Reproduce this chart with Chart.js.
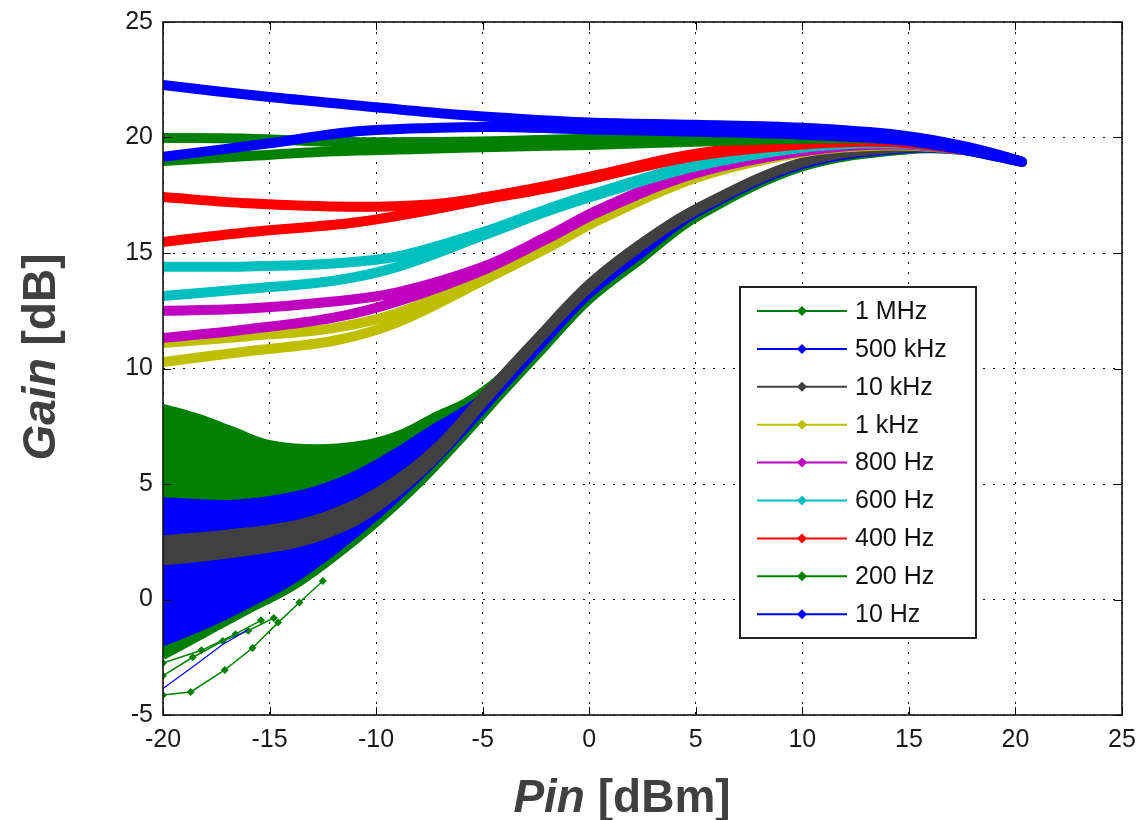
<!DOCTYPE html>
<html>
<head>
<meta charset="utf-8">
<title>Gain vs Pin</title>
<script src="https://cdn.jsdelivr.net/npm/chart.js@4.4.1/dist/chart.umd.min.js"></script>
<style>
  html, body { margin: 0; padding: 0; background: #fff; }
  #wrap { width: 1136px; height: 820px; position: relative; }
</style>
</head>
<body>
<div id="wrap"><canvas id="chart1"></canvas></div>
<script>
// legend order = plotting order (first one sits at the bottom)
var seriesLabels = ["1 MHz", "500 kHz", "10 kHz", "1 kHz", "800 Hz", "600 Hz", "400 Hz", "200 Hz", "10 Hz"];
var seriesColors = ["#008000", "#0000ff", "#404040", "#bfbf00", "#bf00bf", "#00bfbf", "#ff0000", "#008000", "#0000ff"];

var xTicks = [-20, -15, -10, -5, 0, 5, 10, 15, 20, 25];
var yTicks = [-5, 0, 5, 10, 15, 20, 25];

// each frequency: rising branch (upper) and falling branch (lower) as [Pin, Gain]
var up1MHz = [[-20, 8.3], [-18.3, 7.85], [-16.7, 7.3], [-15.1, 6.75], [-12.8, 6.55], [-10.4, 6.75], [-8.9, 7.15], [-7.3, 7.9], [-5.7, 8.6], [-4.2, 9.6], [-2.5, 11.2], [0, 13.6], [2.5, 15.4], [5, 16.85], [10, 18.9], [15, 19.55], [17.7, 19.45], [20.3, 18.95]];
var lo1MHz = [[-20, -2.45], [-18, -1.45], [-16, -0.45], [-14, 0.5], [-12, 1.8], [-10, 3.3], [-8, 5.0], [-6, 6.95], [-4, 9.0], [-2, 11.0], [0, 12.95], [2.5, 14.75], [5, 16.5], [10, 18.7], [15, 19.45], [17.7, 19.4], [20.3, 18.95]];

var up500k = [[-20, 4.25], [-16.7, 4.15], [-13.6, 4.55], [-11.2, 5.3], [-9.2, 6.3], [-7.5, 7.3], [-5, 8.75], [-2.5, 11.25], [0, 13.65], [2.5, 15.45], [5, 16.9], [10, 18.93], [15, 19.55], [17.7, 19.45], [20.3, 18.95]];
var lo500k = [[-20, -1.85], [-18, -1.1], [-16, -0.2], [-14, 0.8], [-12, 2.1], [-10, 3.6], [-8, 5.3], [-6, 7.2], [-4, 9.25], [-2, 11.25], [0, 13.2], [2.5, 15.0], [5, 16.7], [10, 18.8], [15, 19.5], [17.7, 19.4], [20.3, 18.95]];

var up10k = [[-20, 2.6], [-17, 2.85], [-13.6, 3.3], [-11, 4.15], [-8.9, 5.3], [-7, 6.75], [-5, 8.8], [-2.5, 11.3], [0, 13.7], [2.5, 15.5], [5, 16.95], [10, 18.97], [15, 19.58], [17.7, 19.45], [20.3, 18.95]];
var lo10k = [[-20, 1.65], [-17, 1.95], [-13.6, 2.45], [-11, 3.35], [-8.9, 4.7], [-7, 6.3], [-5, 8.45], [-2.5, 11.05], [0, 13.45], [2.5, 15.3], [5, 16.8], [10, 18.88], [15, 19.55], [17.7, 19.42], [20.3, 18.95]];

var up1k = [[-20, 11.1], [-16, 11.4], [-12, 11.75], [-9, 12.4], [-5, 13.95], [-2, 15.3], [0.5, 16.55], [5, 18.35], [10, 19.4], [14, 19.7], [17.7, 19.5], [20.3, 18.95]];
var lo1k = [[-20, 10.28], [-16, 10.75], [-12, 11.2], [-9, 12.0], [-5, 13.8], [-2, 15.2], [0.5, 16.45], [5, 18.25], [10, 19.35], [14, 19.65], [17.7, 19.45], [20.3, 18.95]];

var up800 = [[-20, 12.5], [-16, 12.6], [-12, 12.9], [-9, 13.3], [-5, 14.4], [-2, 15.7], [0.5, 16.9], [5, 18.55], [10, 19.45], [14, 19.75], [17.7, 19.5], [20.3, 18.95]];
var lo800 = [[-20, 11.32], [-16, 11.7], [-12, 12.2], [-9, 12.9], [-5, 14.25], [-2, 15.6], [0.5, 16.8], [5, 18.45], [10, 19.4], [14, 19.7], [17.7, 19.45], [20.3, 18.95]];

var up600 = [[-20, 14.4], [-16, 14.42], [-12, 14.55], [-9, 14.85], [-5, 15.9], [-2, 16.9], [0.5, 17.65], [5, 18.85], [10, 19.6], [14, 19.8], [17.7, 19.5], [20.3, 18.95]];
var lo600 = [[-20, 13.14], [-16, 13.45], [-12, 13.8], [-9, 14.4], [-5, 15.75], [-2, 16.8], [0.5, 17.55], [5, 18.75], [10, 19.55], [14, 19.75], [17.7, 19.45], [20.3, 18.95]];

var up400 = [[-20, 17.42], [-16, 17.15], [-11.2, 17.0], [-7.5, 17.1], [-5, 17.4], [-2, 17.9], [0.5, 18.4], [5, 19.3], [10, 19.75], [14, 19.85], [17.7, 19.5], [20.3, 18.95]];
var lo400 = [[-20, 15.48], [-16, 15.9], [-11.2, 16.3], [-7.5, 16.85], [-5, 17.3], [-2, 17.8], [0.5, 18.3], [5, 19.2], [10, 19.7], [14, 19.8], [17.7, 19.45], [20.3, 18.95]];

var up200 = [[-20, 19.98], [-16, 19.95], [-12, 19.82], [-8, 19.8], [-4, 19.85], [0, 19.95], [5, 20.05], [10, 20.05], [14.6, 19.95], [17.7, 19.5], [20.3, 18.95]];
var lo200 = [[-20, 18.98], [-16, 19.2], [-12, 19.4], [-8, 19.5], [-4, 19.6], [0, 19.68], [5, 19.82], [10, 19.95], [14.6, 19.9], [17.7, 19.45], [20.3, 18.95]];

var up10 = [[-20, 22.27], [-15, 21.75], [-11, 21.4], [-7, 21.05], [-4, 20.85], [0, 20.65], [5, 20.55], [10, 20.42], [14.6, 20.1], [17.7, 19.6], [20.3, 18.95]];
var lo10 = [[-20, 19.16], [-15, 19.75], [-11.2, 20.24], [-7, 20.42], [-4.3, 20.45], [0, 20.35], [5, 20.25], [10, 20.12], [14.6, 19.88], [17.7, 19.45], [20.3, 18.95]];

// loose low-power traces of the 1 MHz and 500 kHz runs
var strand1MHzA = [[-20, -4.13], [-18.7, -4.0], [-17.1, -3.05], [-15.8, -2.1], [-14.6, -1.0], [-13.6, -0.13], [-12.5, 0.8]];
var strand1MHzB = [[-20, -3.3], [-18.6, -2.5], [-17.2, -1.8], [-16, -1.35], [-14.8, -0.8]];
var strand1MHzC = [[-20, -2.75], [-18.2, -2.2], [-16.6, -1.5], [-15.4, -0.9]];
var strand500k = [[-20, -3.85], [-18.5, -2.85], [-17.2, -1.95], [-16, -1.3]];

var branches = [
  [up1MHz, lo1MHz], [up500k, lo500k], [up10k, lo10k], [up1k, lo1k], [up800, lo800],
  [up600, lo600], [up400, lo400], [up200, lo200], [up10, lo10]
];
var filledBands = { "1 MHz": true, "500 kHz": true, "10 kHz": true };

function toPts(arr) {
  return arr.map(function (p) { return { x: p[0], y: p[1] }; });
}

// rising branch out to the top end, then back along the falling branch
function loop(up, lo) {
  return toPts(up.concat(lo.slice(0, -1).reverse()));
}

var datasets = [];
seriesLabels.forEach(function (label, i) {
  var filled = !!filledBands[label];
  datasets.push({
    label: label,
    data: loop(branches[i][0], branches[i][1]),
    showLine: true,
    borderColor: seriesColors[i],
    backgroundColor: seriesColors[i],
    borderWidth: filled ? 8 : 10,
    fill: filled ? "shape" : false,
    tension: 0.35,
    pointRadius: 0,
    borderJoinStyle: "round",
    order: seriesLabels.length - i
  });
});

function strand(arr, color, width, markers, order) {
  return {
    label: "",
    data: toPts(arr),
    showLine: true,
    borderColor: color,
    backgroundColor: color,
    borderWidth: width,
    fill: false,
    tension: 0,
    pointStyle: "rectRot",
    pointRadius: markers ? 4 : 0,
    pointBorderWidth: 0,
    pointBackgroundColor: color,
    order: order
  };
}
datasets.push(strand(strand1MHzA, seriesColors[0], 1.5, true, 10));
datasets.push(strand(strand1MHzB, seriesColors[0], 1.5, true, 10));
datasets.push(strand(strand1MHzC, seriesColors[0], 1.5, true, 10));
datasets.push(strand(strand500k, seriesColors[1], 1.2, false, 8.5));

// box, inward ticks, axis titles and the legend
var framePlugin = {
  id: "frame",
  afterDraw: function (chart) {
    var ctx = chart.ctx;
    var a = chart.chartArea;
    var xs = chart.scales.x, ys = chart.scales.y;
    ctx.save();
    ctx.strokeStyle = "#000";
    ctx.lineWidth = 1;
    ctx.beginPath();
    xTicks.forEach(function (v) {
      var px = Math.round(xs.getPixelForValue(v)) + 0.5;
      ctx.moveTo(px, a.bottom); ctx.lineTo(px, a.bottom - 8);
      ctx.moveTo(px, a.top); ctx.lineTo(px, a.top + 8);
    });
    yTicks.forEach(function (v) {
      var py = Math.round(ys.getPixelForValue(v)) + 0.5;
      ctx.moveTo(a.left, py); ctx.lineTo(a.left + 8, py);
      ctx.moveTo(a.right, py); ctx.lineTo(a.right - 8, py);
    });
    ctx.stroke();
    ctx.lineWidth = 1.6;
    ctx.strokeStyle = "#111";
    ctx.strokeRect(a.left, a.top, a.right - a.left, a.bottom - a.top);

    drawTitle(ctx, 622, 812, 0, "Pin", " [dBm]");
    drawTitle(ctx, 55, 357, -Math.PI / 2, "Gain", " [dB]");

    // legend box
    var lx = 740, ly = 287, lw = 236, lh = 351;
    ctx.fillStyle = "#fff";
    ctx.fillRect(lx, ly, lw, lh);
    ctx.lineWidth = 2;
    ctx.strokeStyle = "#222";
    ctx.strokeRect(lx, ly, lw, lh);
    ctx.font = "25px 'Liberation Sans', Arial, sans-serif";
    ctx.textBaseline = "middle";
    ctx.textAlign = "left";
    seriesLabels.forEach(function (label, i) {
      var y = 311 + i * 37.9;
      ctx.strokeStyle = seriesColors[i];
      ctx.lineWidth = 2;
      ctx.beginPath();
      ctx.moveTo(757, y); ctx.lineTo(847, y);
      ctx.stroke();
      ctx.fillStyle = seriesColors[i];
      ctx.beginPath();
      ctx.moveTo(802, y - 5); ctx.lineTo(807, y); ctx.lineTo(802, y + 5); ctx.lineTo(797, y);
      ctx.closePath();
      ctx.fill();
      ctx.fillStyle = "#111";
      ctx.fillText(label, 855, y + 1);
    });
    ctx.restore();
  }
};

function drawTitle(ctx, x, y, angle, italicPart, plainPart) {
  var fItalic = "italic bold 46px 'Liberation Sans', Arial, sans-serif";
  var fPlain = "bold 46px 'Liberation Sans', Arial, sans-serif";
  ctx.save();
  ctx.translate(x, y);
  ctx.rotate(angle);
  ctx.font = fItalic;
  var w1 = ctx.measureText(italicPart).width;
  ctx.font = fPlain;
  var w2 = ctx.measureText(plainPart).width;
  var start = -(w1 + w2) / 2;
  ctx.fillStyle = "#404040";
  ctx.textAlign = "left";
  ctx.textBaseline = "alphabetic";
  ctx.font = fItalic;
  ctx.fillText(italicPart, start, 0);
  ctx.font = fPlain;
  ctx.fillText(plainPart, start + w1, 0);
  ctx.restore();
}

var tickFont = { family: "'Liberation Sans', Arial, sans-serif", size: 25 };

function drawGraph() {
  var ctx = document.getElementById("chart1").getContext("2d");
  new Chart(ctx, {
    type: "scatter",
    data: { datasets: datasets },
    plugins: [framePlugin],
    options: {
      responsive: true,
      maintainAspectRatio: false,
      animation: false,
      layout: { padding: { left: 0, right: 14, top: 22, bottom: 0 } },
      plugins: {
        legend: { display: false },
        tooltip: { enabled: false },
        title: { display: false }
      },
      scales: {
        x: {
          type: "linear",
          min: -20,
          max: 25,
          afterBuildTicks: function (scale) {
            scale.ticks = xTicks.map(function (v) { return { value: v }; });
          },
          afterFit: function (scale) {
            scale.height = 105;
            scale.paddingLeft = 0;
            scale.paddingRight = 0;
          },
          ticks: { color: "#1a1a1a", font: tickFont, padding: 10, maxRotation: 0 },
          grid: { color: "#000", lineWidth: 1, drawTicks: false },
          border: { display: false, dash: [2, 8] }
        },
        y: {
          type: "linear",
          min: -5,
          max: 25,
          afterBuildTicks: function (scale) {
            scale.ticks = yTicks.map(function (v) { return { value: v }; });
          },
          afterFit: function (scale) {
            scale.width = 163;
            scale.paddingTop = 0;
            scale.paddingBottom = 0;
          },
          ticks: { color: "#1a1a1a", font: tickFont, padding: 10 },
          grid: { color: "#000", lineWidth: 1, drawTicks: false },
          border: { display: false, dash: [2, 8] }
        }
      }
    }
  });
}
window.onload = drawGraph;
</script>
</body>
</html>
